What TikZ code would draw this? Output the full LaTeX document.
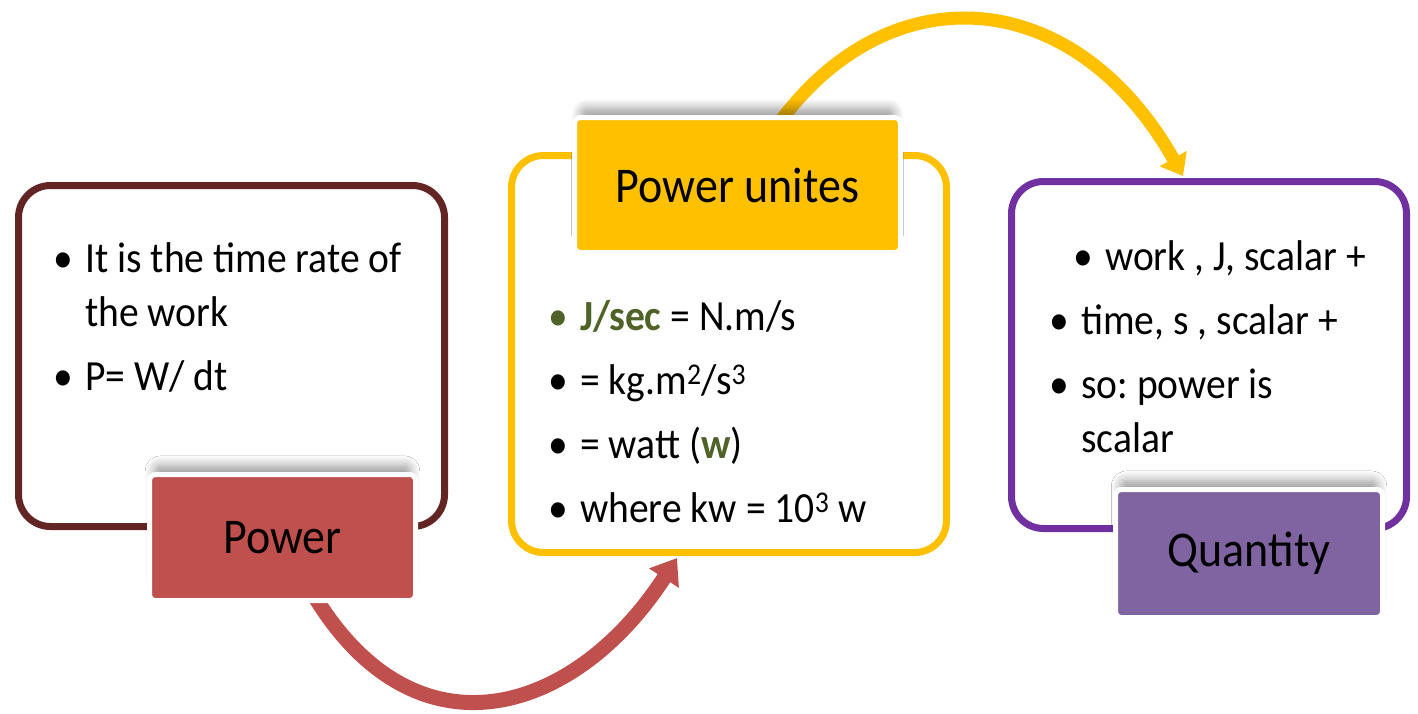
\documentclass[tikz,border=0pt]{standalone}
\usepackage{fontspec}
\setmainfont{Carlito}[FakeStretch=0.92]
\usetikzlibrary{arrows.meta,positioning,backgrounds,shadows.blur}
\definecolor{boxmaroon}{HTML}{632523}
\definecolor{boxgold}{HTML}{FFC000}
\definecolor{boxviolet}{HTML}{7030A0}
\definecolor{tagred}{HTML}{C0504D}
\definecolor{taglilac}{HTML}{8064A2}
\definecolor{unitgreen}{HTML}{4F6228}
\newcommand\bul[2][\textbullet]{\hangindent=23pt\hangafter=1\noindent\makebox[23pt][l]{\hspace*{-9pt}#1}#2\par}
\newcommand\bulin[1]{\noindent\hspace*{24pt}\makebox[23pt][l]{\hspace*{-9pt}\textbullet}#1\par}
\frenchspacing
\tikzset{
  frame/.style={rounded corners=32pt,line width=7pt,fill=white},
  tag/.style={rounded corners=6pt,draw=white,line width=5pt,font=\fontsize{50}{60}\selectfont,text=black,
    blur shadow={shadow xshift=0pt,shadow yshift=12pt,shadow scale=0.96,shadow blur radius=10pt,shadow blur steps=10,shadow opacity=40}},
  body/.style={font=\fontsize{43}{54}\selectfont,text width=#1,align=flush left,inner sep=0pt,anchor=base west,
    execute at begin node={\setlength{\parskip}{10pt}}},
  arr/.style={line width=15pt,-{Triangle[length=24pt,width=34pt]}}
}
\begin{document}
\begin{tikzpicture}[x=1pt,y=-1pt]
\path[use as bounding box] (0,0) rectangle (1418,713);
% frames
\node[frame,draw=boxmaroon,minimum width=426pt,minimum height=341pt] (pbox) at (231.5,356) {};
\node[frame,draw=boxgold,minimum width=435pt,minimum height=397pt] (ubox) at (729,354) {};
\node[frame,draw=boxviolet,minimum width=395pt,minimum height=347pt] (qbox) at (1209,355) {};
% texts
\node[body=380pt] (ptext) at (62,272) {\bul{It is the time rate of\break the work}\bul{P= W/ dt}};
\node[body=380pt] (utext) at (557,330) {\bul[\textcolor{unitgreen}{\textbullet}]{\textcolor{unitgreen}{\textbf{J/sec}} = N.m/s}\bul{= kg.m\textsuperscript{2}/s\textsuperscript{3}}\bul{= watt (\textcolor{unitgreen}{\textbf{w}})}\bul{where kw = 10\textsuperscript{3} w}};
\node[body=340pt] (qtext) at (1058,270) {\bulin{work , J, scalar +}\bul{time, s , scalar +}\bul{so: power is\break scalar}};
% tags
\node[tag,fill=tagred,minimum width=266pt,minimum height=126pt] (plabel) at (282.5,537.5) {Power};
\node[tag,fill=boxgold,minimum width=326pt,minimum height=135pt] (ulabel) at (737.5,185) {Power unites};
\node[tag,fill=taglilac,minimum width=267pt,minimum height=128pt] (qlabel) at (1249,553.5) {Quantity};
% arrows
\begin{scope}[on background layer]
\draw[arr,tagred] ([xshift=30pt,yshift=10pt]plabel.south) .. controls (415,765) and (575,715) .. ([xshift=-52pt,yshift=-2pt]ubox.south);
\draw[arr,boxgold,line width=13pt,-{Triangle[length=20pt,width=30pt]}] ([xshift=40pt,yshift=-10pt]ulabel.north) .. controls (890,-30) and (1075,-15) .. ([xshift=-26pt,yshift=2pt]qbox.north);
\end{scope}
\end{tikzpicture}
\end{document}
